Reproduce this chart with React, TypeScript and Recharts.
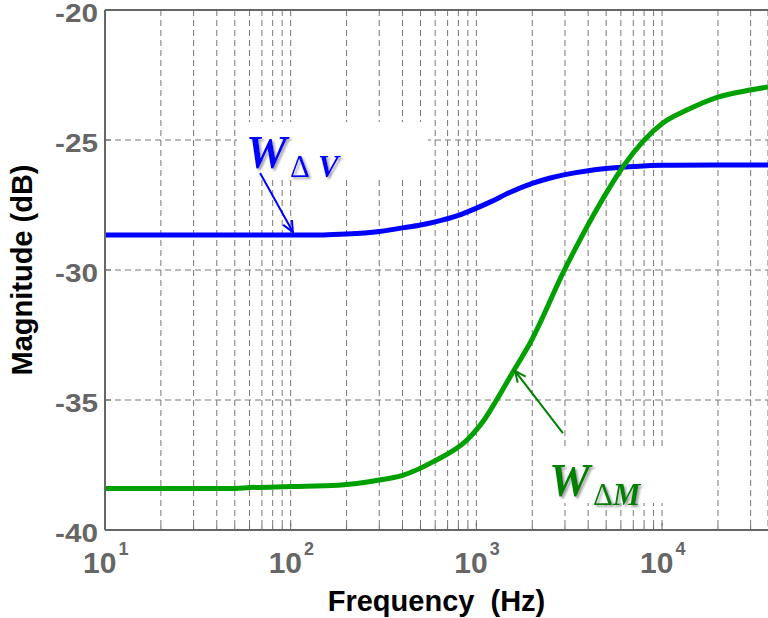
import React from "react";
import {
  LineChart,
  Line,
  XAxis,
  YAxis,
  CartesianGrid,
  ReferenceLine,
  ReferenceArea,
} from "recharts";

// W_dV curve
const freqV = [10, 100, 150, 200, 300, 400, 500, 600, 800, 1000, 1200, 1500, 2000, 2500, 3000, 4000, 5000, 7000, 10000, 20000, 37200];
const magV = [-28.65, -28.65, -28.65, -28.62, -28.52, -28.38, -28.27, -28.15, -27.9, -27.62, -27.37, -27.03, -26.67, -26.46, -26.33, -26.18, -26.1, -26.02, -25.97, -25.96, -25.96];

// W_dM curve
const freqM = [10, 50, 60, 100, 180, 300, 400, 583, 890, 1000, 1100, 1285, 1574, 1950, 3000, 4630, 6200, 10100, 13600, 20000, 29700, 37200];
const magM = [-38.4, -38.4, -38.37, -38.33, -38.28, -38.08, -37.9, -37.38, -36.54, -36.15, -35.77, -35.0, -33.92, -32.8, -29.96, -27.45, -26.0, -24.35, -23.85, -23.35, -23.08, -22.96];

const decades = [10, 100, 1000, 10000];
const minorSteps = [1, 2, 3, 4, 5, 6, 7, 8, 9];
const yTicks = [-40, -35, -30, -25, -20];
const xDomain = [10, 37200];

const xTicks = decades
  .flatMap((d) => minorSteps.map((m) => d * m))
  .filter((v) => v <= xDomain[1]);

const dataV = freqV.map((f, i) => ({ f, v: magV[i] }));
const dataM = freqM.map((f, i) => ({ f, m: magM[i] }));

const AXIS = "#666";
const SANS = "'Liberation Sans', Arial, sans-serif";
const SERIF = "'Liberation Serif', 'Times New Roman', serif";

function FreqTick({ x, y, payload }: any) {
  const v = payload.value;
  const lg = Math.log10(v);
  const major = Math.abs(lg - Math.round(lg)) < 1e-9;
  return (
    <g>
      <line x1={x} y1={y} x2={x} y2={y - (major ? 7 : 4)} stroke={AXIS} strokeWidth={1} />
      {major && (
        <text x={x - 22} y={y + 43} fontFamily={SANS} fontWeight="bold" fontSize={30} fill={AXIS}>
          10
          <tspan dy={-18} dx={2} fontSize={18}>
            {Math.round(lg)}
          </tspan>
        </text>
      )}
    </g>
  );
}

function MagTick({ x, y, payload }: any) {
  return (
    <g>
      <line x1={x} y1={y} x2={x + 6} y2={y} stroke={AXIS} strokeWidth={1} />
      <text
        x={x - 50}
        y={y + 12}
        textLength={43}
        lengthAdjust="spacingAndGlyphs"
        fontFamily={SANS}
        fontWeight="bold"
        fontSize={25}
        fill={AXIS}
      >
        {payload.value}
      </text>
    </g>
  );
}

function Arrow(props: any) {
  const { x1, y1, x2, y2, stroke } = props;
  const dx = x2 - x1;
  const dy = y2 - y1;
  const len = Math.sqrt(dx * dx + dy * dy);
  const ux = dx / len;
  const uy = dy / len;
  const bx = x2 - ux * 11;
  const by = y2 - uy * 11;
  return (
    <g>
      <line x1={x1} y1={y1} x2={x2} y2={y2} stroke={stroke} strokeWidth={2} />
      <polyline
        points={`${bx - uy * 5},${by + ux * 5} ${x2},${y2} ${bx + uy * 5},${by - ux * 5}`}
        fill="none"
        stroke={stroke}
        strokeWidth={2}
      />
    </g>
  );
}

function WLabel({ viewBox, color, sub, gap, id }: any) {
  const { x, y } = viewBox;
  return (
    <g>
      <defs>
        <filter id={id} x="-20%" y="-20%" width="140%" height="140%">
          <feDropShadow dx={2} dy={2} stdDeviation={0.8} floodColor="#999" floodOpacity={0.9} />
        </filter>
      </defs>
      <text
        x={x + 9}
        y={y + 46}
        fontFamily={SERIF}
        fontWeight="bold"
        fontStyle="italic"
        fontSize={46}
        fill={color}
        filter={`url(#${id})`}
      >
        W
      </text>
      <text x={x + 53} y={y + 55} fontFamily={SERIF} fontSize={31} fill={color} filter={`url(#${id})`}>
        Δ
        <tspan dx={gap} fontWeight="bold" fontStyle="italic">
          {sub}
        </tspan>
      </text>
    </g>
  );
}

export default function App() {
  return (
    <div style={{ position: "absolute", left: 0, top: 0, width: 768, height: 618, background: "#fff" }}>
      <LineChart width={768} height={618} margin={{ top: 10, right: 0, bottom: 0, left: 0 }}>
        <CartesianGrid stroke="#777" strokeDasharray="6 4" strokeWidth={1} />
        <XAxis
          dataKey="f"
          type="number"
          scale="log"
          domain={xDomain}
          allowDataOverflow
          ticks={xTicks}
          interval={0}
          height={88}
          tickSize={0}
          tickMargin={0}
          tickLine={false}
          axisLine={{ stroke: AXIS, strokeWidth: 2 }}
          tick={<FreqTick />}
          label={{
            value: "Frequency\u00a0 (Hz)",
            position: "insideBottom",
            offset: 7,
            style: { fontFamily: SANS, fontWeight: "bold", fontSize: 29, fill: "#000" },
          }}
        />
        <YAxis
          type="number"
          domain={[-40, -20]}
          ticks={yTicks}
          width={105}
          tickSize={0}
          tickMargin={0}
          tickLine={false}
          axisLine={{ stroke: AXIS, strokeWidth: 2 }}
          tick={<MagTick />}
          label={{
            value: "Magnitude (dB)",
            angle: -90,
            position: "insideLeft",
            offset: 22,
            style: { fontFamily: SANS, fontWeight: "bold", fontSize: 29, fill: "#000", textAnchor: "middle" },
          }}
        />
        <ReferenceLine y={-20} stroke={AXIS} strokeWidth={2} />
        <ReferenceArea
          x1={51.4}
          x2={548}
          y1={-26.46}
          y2={-24.31}
          fill="#fff"
          fillOpacity={1}
          stroke="none"
          label={(p: any) => <WLabel viewBox={p.viewBox} color="#0000ff" sub="V" gap={8} id="shV" />}
        />
        <ReferenceArea
          x1={2198}
          x2={18580}
          y1={-38.96}
          y2={-36.92}
          fill="#fff"
          fillOpacity={1}
          stroke="none"
          label={(p: any) => <WLabel viewBox={p.viewBox} color="#008000" sub="M" gap={0} id="shM" />}
        />
        <Line
          data={dataV}
          dataKey="v"
          type="monotone"
          stroke="#0000ff"
          strokeWidth={5}
          dot={false}
          isAnimationActive={false}
        />
        <Line
          data={dataM}
          dataKey="m"
          type="monotone"
          stroke="#00a000"
          strokeWidth={5}
          dot={false}
          isAnimationActive={false}
        />
        <ReferenceLine
          segment={[
            { x: 68.4, y: -26.27 },
            { x: 102.8, y: -28.54 },
          ]}
          stroke="#0000ff"
          shape={(p: any) => <Arrow {...p} stroke="#0000ff" />}
        />
        <ReferenceLine
          segment={[
            { x: 2924, y: -36.27 },
            { x: 1614, y: -33.88 },
          ]}
          stroke="#008000"
          shape={(p: any) => <Arrow {...p} stroke="#008000" />}
        />
      </LineChart>
    </div>
  );
}
